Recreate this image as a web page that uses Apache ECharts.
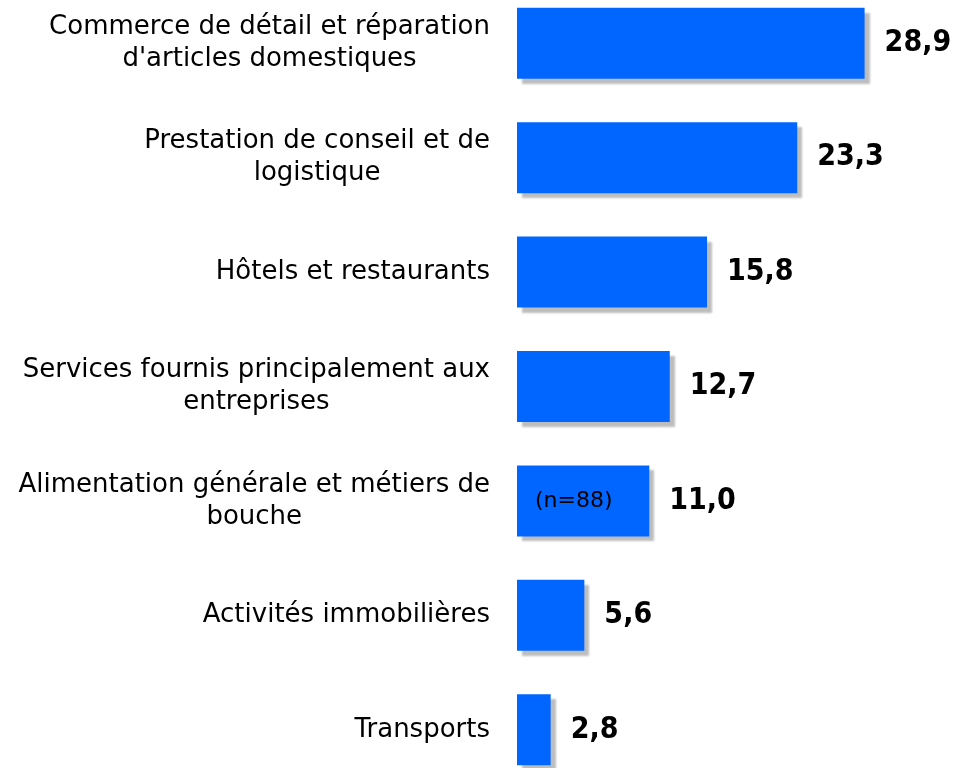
<!DOCTYPE html>
<html>
<head>
    <meta charset="utf-8">
    <script src="https://cdn.jsdelivr.net/npm/echarts@6/dist/echarts.min.js"></script>
</head>
<body style="margin: 0; background: #fff; overflow: hidden">
    <!-- the plot runs past the window at top and bottom, as in the original -->
    <div id="container" style="position: absolute; left: 0; top: -14px; width: 955px; height: 801px"></div>
    <script type="text/javascript">
        // secteurs d'activité (haut -> bas)
        var categories = [
            'Commerce de détail et réparation\nd\'articles domestiques',
            'Prestation de conseil et de\nlogistique',
            'Hôtels et restaurants',
            'Services fournis principalement aux\nentreprises',
            'Alimentation générale et métiers de\nbouche',
            'Activités immobilières',
            'Transports'
        ];
        var values = [28.9, 23.3, 15.8, 12.7, 11.0, 5.6, 2.8];
        var noteIndex = 4;
        var noteText = '(n=88)';

        var dom = document.getElementById('container');
        var myChart = echarts.init(dom);

        var noteData = values.map(function (v, i) {
            if (i !== noteIndex) return null;
            return {
                value: v,
                label: { show: true, position: 'insideLeft', formatter: noteText }
            };
        });

        var option = {
            animation: false,
            grid: { left: 517, right: 5, top: 0, bottom: 0, containLabel: false },
            xAxis: {
                type: 'value',
                min: 0,
                max: 36,
                show: false
            },
            yAxis: {
                type: 'category',
                data: categories,
                inverse: true,
                axisLine: { show: false },
                axisTick: { show: false },
                splitLine: { show: false },
                axisLabel: {
                    margin: 27,
                    align: 'right',
                    formatter: function (v) {
                        return v.split('\n').map(function (s) { return '{c|' + s + '}'; }).join('\n');
                    },
                    rich: {
                        c: {
                            align: 'center',
                            fontFamily: 'DejaVu Sans',
                            fontSize: 26,
                            lineHeight: 32,
                            color: '#000'
                        }
                    }
                }
            },
            series: [
                {
                    type: 'bar',
                    data: values,
                    barWidth: 71,
                    itemStyle: {
                        color: '#0066ff',
                        shadowColor: 'rgba(0,0,0,0.26)',
                        shadowBlur: 2,
                        shadowOffsetX: 5,
                        shadowOffsetY: 5
                    },
                    label: {
                        show: true,
                        position: 'right',
                        distance: 20,
                        fontFamily: '"DejaVu Sans Condensed", "DejaVu Sans"',
                        fontWeight: 'bold',
                        fontSize: 30,
                        color: '#000',
                        formatter: function (p) {
                            return p.value.toFixed(1).replace('.', ',');
                        }
                    }
                },
                {
                    type: 'bar',
                    data: noteData,
                    barWidth: 71,
                    barGap: '-100%',
                    silent: true,
                    itemStyle: { color: 'rgba(0,0,0,0)' },
                    label: {
                        distance: 18,
                        fontFamily: 'DejaVu Sans',
                        fontSize: 22,
                        color: '#000'
                    }
                }
            ]
        };

        myChart.setOption(option);
    </script>
</body>
</html>
